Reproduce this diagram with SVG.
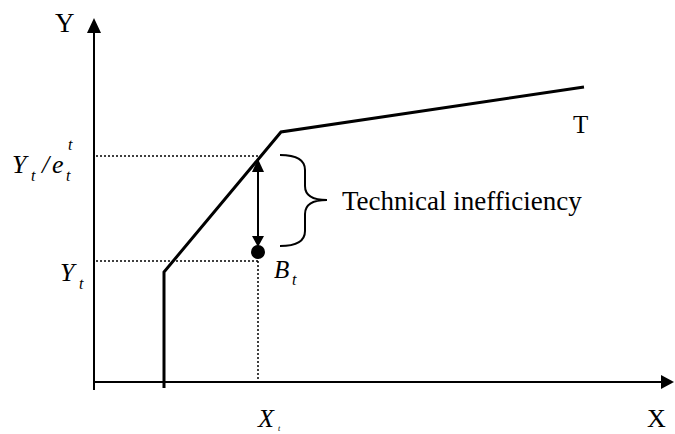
<svg xmlns="http://www.w3.org/2000/svg" width="675" height="434" viewBox="0 0 675 434">
<style>
.lbl{font-family:"Liberation Serif","Times New Roman",serif;fill:#000}
.it{font-style:italic}
.ax{stroke:#000;stroke-width:2;fill:none}
.fr{stroke:#000;stroke-width:3;fill:none}
.dot{stroke:#000;stroke-width:1.5;stroke-dasharray:2,2;fill:none}
</style>
<rect width="675" height="434" fill="#fff"/>
<g id="axes">
<line class="ax" x1="94" y1="390" x2="94" y2="32"/>
<polygon points="94,18 87,33 101,33" fill="#000"/>
<line class="ax" x1="94" y1="382" x2="662" y2="382"/>
<polygon points="674,382 661,375 661,389" fill="#000"/>
<text class="lbl" x="55" y="32" font-size="27">Y</text>
<text class="lbl" x="647" y="427" font-size="26">X</text>
</g>
<g id="frontier">
<polyline class="fr" points="164,388 164,272 281,132 584,87"/>
<text class="lbl" x="573" y="133" font-size="25">T</text>
</g>
<g id="connectors">
<line class="dot" x1="96" y1="156" x2="259" y2="156"/>
<line class="dot" x1="96" y1="261" x2="258" y2="261"/>
<line class="dot" x1="258" y1="261" x2="258" y2="382"/>
<line stroke="#000" stroke-width="2" x1="258" y1="170" x2="258" y2="238"/>
<polygon points="258,159 252,172 264,172" fill="#000"/>
<polygon points="258,247 252,236 264,236" fill="#000"/>
</g>
<g id="point-B">
<circle cx="258" cy="252" r="7" fill="#000"/>
<text class="lbl it" x="274" y="278" font-size="25">B</text>
<text class="lbl it" x="292" y="285" font-size="16">t</text>
</g>
<g id="brace">
<path d="M280,155 Q305,155 305,170 L305,186 Q305,200 327,200 Q305,200 305,214 L305,231 Q305,246 280,246" stroke="#000" stroke-width="2" fill="none"/>
<text class="lbl" x="342" y="210" font-size="27">Technical inefficiency</text>
</g>
<g id="labels">
<text class="lbl it" x="12" y="173" font-size="26">Y</text>
<text class="lbl it" x="31" y="181" font-size="16">t</text>
<text class="lbl it" x="42" y="173" font-size="26">/</text>
<text class="lbl it" x="52" y="173" font-size="26">e</text>
<text class="lbl it" x="66" y="181" font-size="16">t</text>
<text class="lbl it" x="68" y="150" font-size="16">t</text>
<text class="lbl it" x="60" y="281" font-size="26">Y</text>
<text class="lbl it" x="79" y="289" font-size="16">t</text>
<text class="lbl it" x="258" y="427" font-size="26">X</text>
<text class="lbl it" x="278" y="431" font-size="8">t</text>
</g>
</svg>
